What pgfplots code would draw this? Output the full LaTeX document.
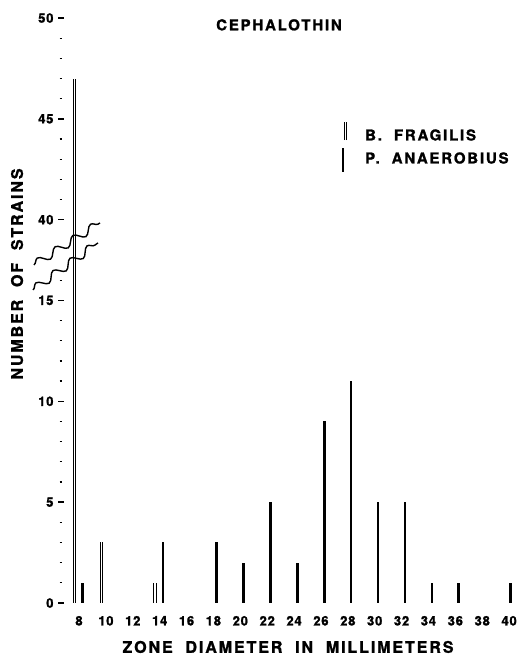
\documentclass[border=0pt]{standalone}
\usepackage{fontspec}
\setmainfont{TeX Gyre Heros}
\newfontfamily\lab[LetterSpace=12, FakeBold=1.3, Extension=.otf, UprightFont=*-bold]{texgyreheros}
\newfontfamily\num[LetterSpace=6, FakeBold=1.3, Extension=.otf, UprightFont=*-bold]{texgyreheros}
\usepackage{pgfplots}
\pgfplotsset{compat=1.18}
\usetikzlibrary{decorations.pathmorphing}

% upper part of the broken axis (40..50) is shifted down by 21 units
\begin{document}
\begin{tikzpicture}
\path[use as bounding box] (0,0) rectangle (524pt,659pt);
\begin{axis}[
    at={(61pt,56pt)}, anchor=south west,
    scale only axis, width=459pt, height=585pt,
    xmin=6.66, xmax=40.81, ymin=0, ymax=29,
    axis x line*=bottom, axis y line*=left,
    axis line style={draw=none},
    clip=false,
    /pgf/number format/assume math mode=true,
    xtick={8,10,...,40},
    xticklabels={8,10,12,14,16,18,20,22,24,26,28,30,32,34,36,38,40},
    xtick style={draw=none},
    xticklabel style={font=\num\fontsize{13}{13}\selectfont, yshift=-7pt},
    ytick={0,5,10,15,19,24,29},
    yticklabels={0,5,10,15,40,45,50},
    minor ytick={1,2,3,4,6,7,8,9,11,12,13,14,16,20,21,22,23,25,26,27,28},
    tick align=center,
    major tick length=5pt, minor tick length=2.5pt,
    ytick style={line width=1.3pt, black},
    minor tick style={line width=1.3pt, black},
    yticklabel style={font=\num\fontsize{13}{13}\selectfont, xshift=-1.5pt},
]
% B. fragilis (drawn as a pair of thin lines)
\addplot[ycomb, black, line width=0.9pt]
    coordinates {(7.57,26) (9.57,3) (13.57,1)};
\addplot[ycomb, black, line width=0.9pt]
    coordinates {(7.76,26) (9.76,3) (13.76,1)};
% P. anaerobius (solid bars)
\addplot[ycomb, black, line width=2.6pt]
    coordinates {(8.25,1) (14.25,3) (18.25,3) (20.25,2) (22.25,5) (24.25,2)
                 (26.25,9) (28.25,11) (30.25,5) (32.25,5) (34.25,1) (36.25,1) (40.1,1)};

% axis break
\draw[line width=1.4pt, decorate, decoration={snake, segment length=21pt, amplitude=4pt}]
    (axis cs:4.65,16.76) -- (axis cs:9.56,18.84);
\draw[line width=1.4pt, decorate, decoration={snake, segment length=21pt, amplitude=4pt}]
    (axis cs:4.58,15.52) -- (axis cs:9.41,17.85);

% legend
\draw[black, line width=0.9pt] (axis cs:27.72,22.95) -- (axis cs:27.72,23.85);
\draw[black, line width=0.9pt] (axis cs:27.88,22.95) -- (axis cs:27.88,23.85);
\draw[black, line width=2.4pt] (axis cs:27.64,21.37) -- (axis cs:27.64,22.56);
\node[anchor=west, inner sep=0pt, font=\lab\fontsize{15}{15}\selectfont]
    at (axis cs:29.28,23.2) {B.~ FRAGILIS};
\node[anchor=west, inner sep=0pt, font=\lab\fontsize{15}{15}\selectfont]
    at (axis cs:29.28,22.06) {P.~ ANAEROBIUS};

% titles
\node[font=\lab\fontsize{15}{15}\selectfont] at (axis cs:22.88,28.66) {CEPHALOTHIN};
\node[font=\lab\fontsize{16}{16}\selectfont] at (axis cs:23.55,-2.18)
    {ZONE~ DIAMETER~ IN~ MILLIMETERS};
\node[rotate=90, font=\lab\fontsize{16}{16}\selectfont] at (axis cs:3.39,16.31)
    {NUMBER~ OF~ STRAINS};
\end{axis}
\end{tikzpicture}
\end{document}
